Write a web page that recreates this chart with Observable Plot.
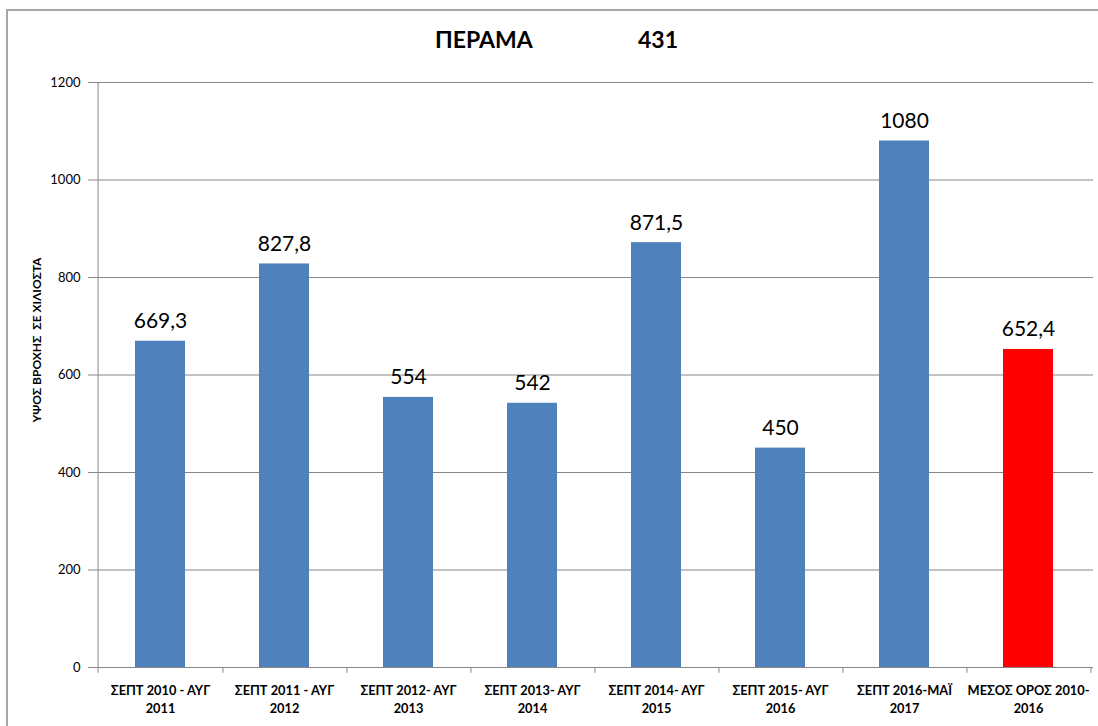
<!DOCTYPE html>
<html>
<head>
<meta charset="utf-8">
<script src="https://cdn.jsdelivr.net/npm/d3@7"></script>
<script src="https://cdn.jsdelivr.net/npm/@observablehq/plot@0.6"></script>
<style>
  html, body { margin: 0; padding: 0; background: #fff; }
  #wrap { position: relative; width: 1098px; height: 726px; overflow: hidden; font-family: Lato, "Noto Sans", sans-serif; }
  #border { position: absolute; left: 6px; top: 9px; width: 1200px; height: 800px; border-left: 2px solid #a6a6a6; border-top: 2px solid #a6a6a6; }
  #title { position: absolute; left: 435px; top: 25px; font-weight: bold; font-size: 23px; color: #000; white-space: pre; }
  #title span { display: inline-block; }
  #chart { position: absolute; left: 0; top: 0; }
  #chart svg line, #chart svg path { stroke: #868686; }
</style>
</head>
<body>
<div id="wrap">
  <div id="border"></div>
  <div id="chart"></div>
  <div id="title"><span style="width:203px">ΠΕΡΑΜΑ</span><span>431</span></div>
</div>
<script>
const categories = [
  "ΣΕΠΤ 2010 - ΑΥΓ\n2011",
  "ΣΕΠΤ 2011 - ΑΥΓ\n2012",
  "ΣΕΠΤ 2012- ΑΥΓ\n2013",
  "ΣΕΠΤ 2013- ΑΥΓ\n2014",
  "ΣΕΠΤ 2014- ΑΥΓ\n2015",
  "ΣΕΠΤ 2015- ΑΥΓ\n2016",
  "ΣΕΠΤ 2016-ΜΑΪ\n2017",
  "ΜΕΣΟΣ ΟΡΟΣ 2010-\n2016"
];
const values = [669.3, 827.8, 554, 542, 871.5, 450, 1080, 652.4];
const barColors = ["#4F81BD", "#4F81BD", "#4F81BD", "#4F81BD", "#4F81BD", "#4F81BD", "#4F81BD", "#FF0000"];
const yTicks = [0, 200, 400, 600, 800, 1000, 1200];
const yLabel = "ΥΨΟΣ ΒΡΟΧΗΣ  ΣΕ ΧΙΛΙΟΣΤΑ";

const data = categories.map((c, i) => ({cat: c, value: values[i], color: barColors[i]}));
const fmt = v => d3.format("~f")(v).replace(".", ",");

const W = 1098, H = 726, ML = 94, MR = 5, MT = 82, MB = 59;
const step = (W - ML - MR) / categories.length;
const tickLen = 12; // in data units (~6px)

const chart = Plot.plot({
  width: W,
  height: H,
  marginLeft: ML,
  marginRight: MR,
  marginTop: MT,
  marginBottom: MB,
  style: {fontFamily: "Lato, 'Noto Sans', sans-serif", fontSize: "13px", color: "#000", background: "transparent"},
  x: {domain: categories, paddingInner: 0.6, paddingOuter: 0.3, axis: null},
  y: {domain: [0, 1200], ticks: yTicks, tickSize: 6, tickPadding: 8, label: null, tickFormat: d => String(d)},
  marks: [
    Plot.ruleY(yTicks, {stroke: "#868686", strokeWidth: 1}),
    Plot.barY(data, {x: "cat", y: "value", fill: "color"}),
    Plot.ruleX([categories[0]], {dx: -step / 2, y1: -tickLen, y2: 1200, stroke: "#868686"}),
    Plot.ruleX(categories, {dx: step / 2, y1: -tickLen, y2: 0, stroke: "#868686"}),
    Plot.text(data, {x: "cat", y: "value", text: d => fmt(d.value), dy: -13, lineAnchor: "bottom", fontSize: 21, fill: "#000"}),
    Plot.text(categories, {x: d => d, frameAnchor: "bottom", lineAnchor: "top", dy: 15, lineHeight: 1.4, fontWeight: "bold", fontSize: 12.8, fill: "#000"}),
    Plot.text([yLabel], {frameAnchor: "left", textAnchor: "middle", dx: -57, dy: -35, rotate: -90, fontWeight: "bold", fontSize: 12, fill: "#000"})
  ]
});
document.getElementById("chart").appendChild(chart);
</script>
</body>
</html>
